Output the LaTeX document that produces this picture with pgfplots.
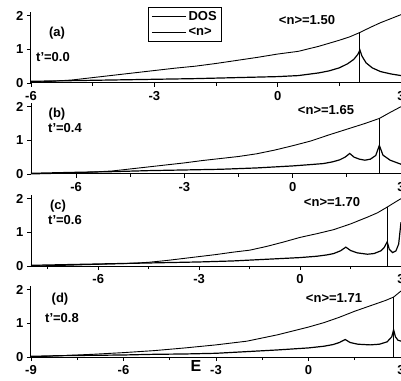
\documentclass[border=0pt]{standalone}
\usepackage{pgfplots}
\pgfplotsset{compat=1.18}
\usepackage{fontspec}
\setmainfont{Liberation Sans}
\newcommand{\lf}{\fontsize{13}{15}\selectfont\bfseries}
\begin{document}
\begin{tikzpicture}[x=1pt,y=1pt]
\pgfplotsset{
  panel/.style={
    scale only axis, width=370pt, height=70.7pt,
    ymin=0, ymax=2.1, xmax=3,
    axis x line*=bottom, axis y line*=left,
    ytick={0,1,2}, xtick={-9,-6,-3,0,3},
    minor x tick num=1,
    tick align=outside,
    major tick length=4pt, minor tick length=3pt,
    tick style={black, line width=0.8pt},
    axis line style={line width=1pt},
    ticklabel style={font=\lf},
    xticklabel style={yshift=-1pt},
    /pgf/number format/assume math mode=true,
    clip=false,
    every axis plot/.append style={black, line width=0.9pt},
  }
}
% ---------- panel (a)
\begin{axis}[panel, at={(31pt,297pt)}, anchor=south west, xmin=-6,
  legend style={at={(0.316,1.075)}, anchor=north west, draw=black, line width=0.8pt,
    font=\lf, legend cell align=left, inner xsep=3pt, inner ysep=2pt, row sep=2pt},
  legend image code/.code={\draw[#1] (0pt,0pt) -- (34pt,0pt);}]
\addplot[line width=1.2pt] coordinates {(-6,0.05) (-5,0.07) (-4,0.09) (-3,0.11) (-2,0.13) (-1,0.16) (0,0.19) (0.5,0.22) (1,0.3) (1.25,0.36) (1.5,0.45) (1.7,0.57) (1.85,0.7) (1.95,0.85) (2.0,0.98) (2.05,0.8) (2.15,0.6) (2.3,0.45) (2.5,0.34) (2.75,0.27) (3,0.22)};
\addlegendentry{DOS}
\addplot[line width=0.9pt] coordinates {(-6,0.02) (-5.5,0.05) (-5,0.09) (-4.5,0.16) (-4,0.23) (-3.5,0.3) (-3,0.37) (-2.5,0.44) (-2,0.5) (-1.5,0.58) (-1,0.67) (-0.5,0.76) (0,0.86) (0.5,0.94) (1,1.09) (1.5,1.27) (1.75,1.37) (2.0,1.50) (2.25,1.65) (2.5,1.79) (2.75,1.91) (3,2.03)};
\addlegendentry{\textless n\textgreater}
\addplot[line width=1pt, forget plot] coordinates {(2.0,0) (2.0,1.5)};
\end{axis}
% ---------- panel (b)
\begin{axis}[panel, at={(31pt,206pt)}, anchor=south west, xmin=-7.25]
\addplot[line width=1.2pt] coordinates {(-7.25,0.02) (-6,0.05) (-5,0.07) (-4,0.1) (-3,0.12) (-2,0.14) (-1,0.18) (0,0.24) (0.5,0.28) (0.85,0.31) (1.1,0.36) (1.3,0.42) (1.45,0.5) (1.58,0.61) (1.7,0.5) (1.85,0.44) (2.0,0.41) (2.15,0.44) (2.3,0.55) (2.4,0.85) (2.5,0.56) (2.7,0.41) (3,0.29)};
\addplot[line width=0.9pt] coordinates {(-7.25,0.0) (-6,0.03) (-5,0.09) (-4.5,0.15) (-4,0.21) (-3.5,0.27) (-3,0.33) (-2.5,0.4) (-2,0.46) (-1.5,0.52) (-1,0.6) (-0.5,0.71) (0,0.84) (0.5,0.98) (1,1.16) (1.5,1.33) (2,1.5) (2.4,1.65) (2.7,1.83) (3,2.0)};
\addplot[line width=1pt] coordinates {(2.4,0) (2.4,1.65)};
\end{axis}
% ---------- panel (c)
\begin{axis}[panel, at={(31pt,114pt)}, anchor=south west, xmin=-8]
\addplot[line width=1.2pt] coordinates {(-8,0.02) (-7,0.04) (-6,0.06) (-5,0.08) (-4,0.1) (-3,0.12) (-2,0.15) (-1,0.2) (0,0.25) (0.5,0.29) (0.8,0.33) (1.0,0.37) (1.2,0.45) (1.36,0.56) (1.5,0.46) (1.7,0.39) (2.0,0.35) (2.2,0.37) (2.4,0.45) (2.5,0.55) (2.59,0.72) (2.65,0.5) (2.75,0.4) (2.85,0.45) (2.93,0.65) (3.0,1.3)};
\addplot[line width=0.9pt] coordinates {(-8,0.0) (-7,0.02) (-6,0.05) (-5,0.08) (-4.5,0.11) (-4,0.16) (-3.5,0.22) (-3,0.28) (-2.5,0.34) (-2,0.41) (-1.5,0.47) (-1,0.58) (-0.5,0.71) (0,0.85) (0.5,0.96) (1,1.08) (1.5,1.25) (2,1.45) (2.3,1.58) (2.59,1.75) (2.8,1.88) (3,2.0)};
\addplot[line width=1pt] coordinates {(2.59,0) (2.59,1.75)};
\end{axis}
% ---------- panel (d)
\begin{axis}[panel, at={(31pt,23pt)}, anchor=south west, xmin=-9]
\addplot[line width=1.2pt] coordinates {(-9,0.02) (-8,0.04) (-7,0.05) (-6,0.06) (-5,0.08) (-4,0.09) (-3,0.11) (-2,0.16) (-1,0.21) (0,0.27) (0.5,0.32) (0.8,0.37) (1.0,0.43) (1.19,0.52) (1.35,0.43) (1.6,0.38) (2.0,0.36) (2.3,0.38) (2.55,0.45) (2.7,0.6) (2.76,0.81) (2.82,0.6) (2.9,0.5) (3,0.47)};
\addplot[line width=0.9pt] coordinates {(-9,0.0) (-8,0.04) (-7,0.08) (-6,0.13) (-5,0.19) (-4,0.27) (-3,0.36) (-2,0.47) (-1,0.66) (0,0.89) (0.5,1.02) (1,1.18) (1.5,1.36) (2,1.52) (2.5,1.68) (2.76,1.78) (3,1.96)};
\addplot[line width=1pt] coordinates {(2.76,0) (2.76,1.78)};
\end{axis}
% ---------- labels
\node[font=\lf] at (57,347) {(a)};
\node[font=\lf, anchor=west, inner sep=0pt] at (36,323) {t'=0.0};
\node[font=\lf] at (57,266) {(b)};
\node[font=\lf, anchor=west, inner sep=0pt] at (48,252) {t'=0.4};
\node[font=\lf] at (58,174) {(c)};
\node[font=\lf, anchor=west, inner sep=0pt] at (48,160) {t'=0.6};
\node[font=\lf] at (60,81) {(d)};
\node[font=\lf, anchor=west, inner sep=0pt] at (45,62) {t'=0.8};
\node[font=\lf] at (307,360) {\textless n\textgreater=1.50};
\node[font=\lf] at (326,270) {\textless n\textgreater=1.65};
\node[font=\lf] at (332,178) {\textless n\textgreater=1.70};
\node[font=\lf] at (334,82) {\textless n\textgreater=1.71};
\node[font=\fontsize{16}{18}\selectfont\bfseries] at (196,14) {E};
\pgfresetboundingbox
\path[use as bounding box] (0,0) rectangle (401,380);
\end{tikzpicture}
\end{document}
